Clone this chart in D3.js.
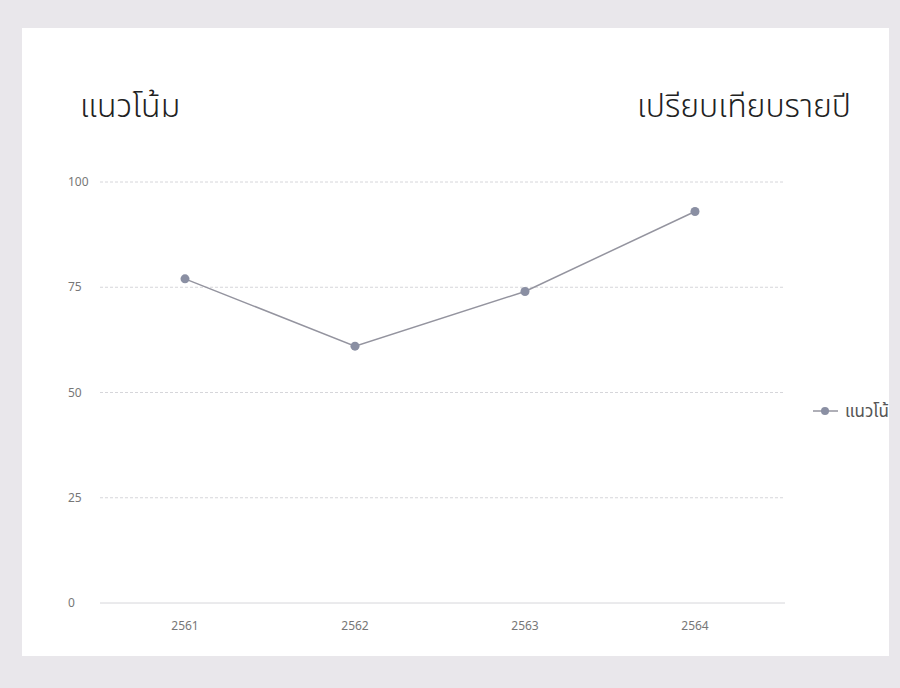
<!DOCTYPE html>
<html>
<head>
<meta charset="utf-8">
<script src="https://cdn.jsdelivr.net/npm/d3@7"></script>
<style>
  body { margin: 0; background: #e9e7eb; }
  svg { display: block; }
</style>
</head>
<body>
<svg id="chart" width="900" height="688"></svg>
<script>
const years = ["2561", "2562", "2563", "2564"]
const values = [77, 61, 74, 93]
const yTicks = [0, 25, 50, 75, 100]
const seriesName = "แนวโน้ม"

const svg = d3.select("#chart")
const font = "'Noto Sans Thai', 'Noto Sans', Lato, sans-serif"

// card
svg.append("rect").attr("x", 22).attr("y", 28).attr("width", 867).attr("height", 628).attr("fill", "#ffffff")

svg.append("text").attr("x", 80).attr("y", 117).attr("font-family", font).attr("font-size", 32)
    .attr("font-weight", 300).attr("fill", "#222").text("แนวโน้ม")
svg.append("text").attr("x", 851).attr("y", 117).attr("text-anchor", "end").attr("font-family", font)
    .attr("font-size", 32).attr("font-weight", 300).attr("fill", "#222").text("เปรียบเทียบรายปี")

const x = d3.scaleBand().domain(years).range([100, 780])
const y = d3.scaleLinear().domain([0, 100]).range([603, 182])

// gridlines
svg.append("g").selectAll("line").data(yTicks).join("line")
    .attr("x1", 100).attr("x2", 785)
    .attr("y1", d => y(d)).attr("y2", d => y(d))
    .attr("stroke", "#d6d6da").attr("stroke-width", 1)
    .attr("stroke-dasharray", d => d === 0 ? null : "3,2")

svg.append("g").selectAll("text").data(yTicks).join("text")
    .attr("x", 68).attr("y", d => y(d) + 4).attr("text-anchor", "start")
    .attr("font-family", font).attr("font-size", 12).attr("fill", "#777")
    .text(d => d)

svg.append("g").selectAll("text").data(years).join("text")
    .attr("x", d => x(d) + x.bandwidth() / 2).attr("y", 630).attr("text-anchor", "middle")
    .attr("font-family", font).attr("font-size", 12).attr("fill", "#777")
    .text(d => d)

const pts = years.map((yr, i) => [x(yr) + x.bandwidth() / 2, y(values[i])])

svg.append("path").attr("d", d3.line()(pts)).attr("fill", "none")
    .attr("stroke", "#94949f").attr("stroke-width", 1.5)

svg.append("g").selectAll("circle").data(pts).join("circle")
    .attr("cx", d => d[0]).attr("cy", d => d[1]).attr("r", 4.5)
    .attr("fill", "#8a8fa3")

// legend (clipped at card edge)
svg.append("clipPath").attr("id", "cardclip").append("rect")
    .attr("x", 22).attr("y", 28).attr("width", 867).attr("height", 628)
const lg = svg.append("g").attr("clip-path", "url(#cardclip)")
lg.append("line").attr("x1", 813).attr("x2", 838).attr("y1", 411).attr("y2", 411)
    .attr("stroke", "#94949f").attr("stroke-width", 1.5)
lg.append("circle").attr("cx", 825).attr("cy", 411).attr("r", 4).attr("fill", "#8a8fa3")
lg.append("text").attr("x", 845).attr("y", 417).attr("font-family", font).attr("font-size", 17)
    .attr("fill", "#555").text(seriesName)
</script>
</body>
</html>
